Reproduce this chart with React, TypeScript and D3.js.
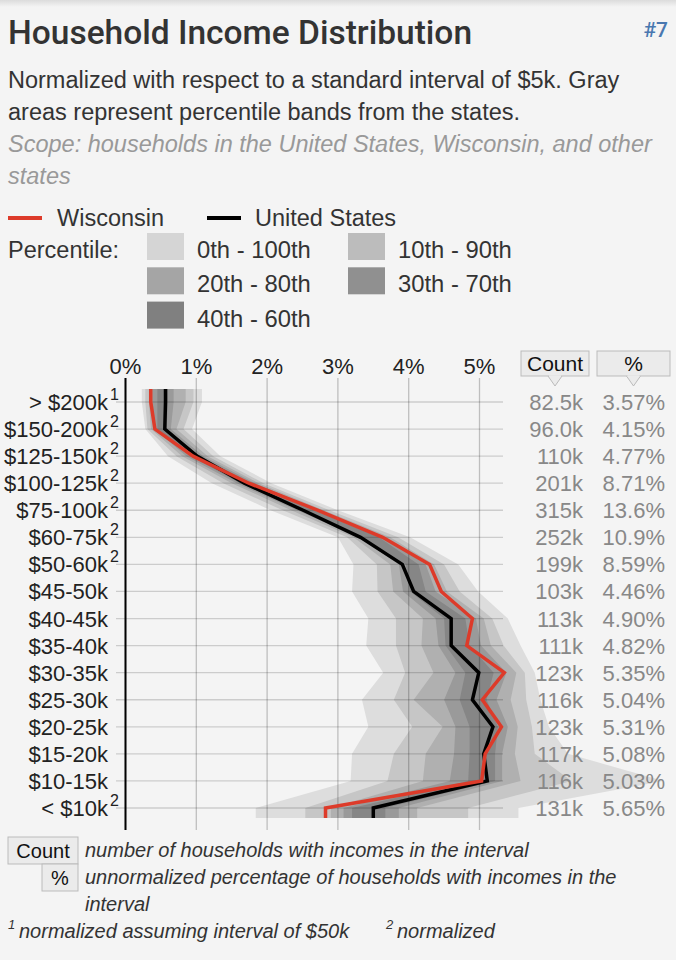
import React from 'react';
import * as d3 from 'd3';

// income brackets, top to bottom
const incomeLabels = ['> $200k', '$150-200k', '$125-150k', '$100-125k', '$75-100k', '$60-75k', '$50-60k', '$45-50k', '$40-45k', '$35-40k', '$30-35k', '$25-30k', '$20-25k', '$15-20k', '$10-15k', '< $10k'];
const footnoteMarks = ['1', '2', '2', '2', '2', '2', '2', '', '', '', '', '', '', '', '', '2'];
const countLabels = ['82.5k', '96.0k', '110k', '201k', '315k', '252k', '199k', '103k', '113k', '111k', '123k', '116k', '123k', '117k', '116k', '131k'];
const pctLabels = ['3.57%', '4.15%', '4.77%', '8.71%', '13.6%', '10.9%', '8.59%', '4.46%', '4.90%', '4.82%', '5.35%', '5.04%', '5.31%', '5.08%', '5.03%', '5.65%'];

// normalized percentages (per $5k)
const wisconsin = [0.357, 0.415, 0.954, 1.742, 2.72, 3.633, 4.295, 4.46, 4.9, 4.82, 5.35, 5.04, 5.31, 5.08, 5.03, 2.825];
const unitedStates = [0.565, 0.555, 1.01, 1.68, 2.51, 3.32, 3.91, 4.07, 4.6, 4.6, 4.99, 4.9, 5.19, 5.06, 5.11, 3.5];

// state percentiles
const p0 = [0.23, 0.28, 0.6, 1.22, 2.05, 3.0, 3.22, 3.2, 3.43, 3.4, 3.64, 3.34, 3.43, 3.2, 3.18, 1.84];
const p10 = [0.28, 0.31, 0.72, 1.38, 2.22, 3.13, 3.55, 3.56, 3.82, 3.82, 3.95, 3.79, 4.05, 3.79, 3.7, 2.54];
const p20 = [0.33, 0.36, 0.8, 1.5, 2.34, 3.22, 3.74, 3.78, 4.2, 4.18, 4.35, 4.07, 4.48, 4.24, 4.2, 2.9];
const p30 = [0.38, 0.41, 0.86, 1.57, 2.42, 3.3, 3.86, 3.92, 4.38, 4.42, 4.66, 4.5, 4.66, 4.64, 4.58, 3.08];
const p40 = [0.45, 0.45, 0.92, 1.62, 2.48, 3.36, 3.96, 4.02, 4.5, 4.52, 4.8, 4.72, 4.86, 4.86, 4.84, 3.2];
const p60 = [0.6, 0.58, 1.05, 1.78, 2.66, 3.58, 4.14, 4.24, 4.8, 4.86, 5.2, 5.1, 5.26, 5.22, 5.22, 3.67];
const p70 = [0.68, 0.64, 1.1, 1.83, 2.72, 3.66, 4.24, 4.38, 4.95, 5.02, 5.38, 5.24, 5.4, 5.32, 5.32, 3.86];
const p80 = [0.85, 0.72, 1.16, 1.88, 2.8, 3.74, 4.36, 4.54, 5.06, 5.16, 5.52, 5.44, 5.54, 5.5, 5.58, 4.12];
const p90 = [0.96, 0.82, 1.24, 1.95, 2.88, 3.85, 4.5, 4.72, 5.18, 5.34, 5.64, 5.66, 5.74, 5.78, 6.3, 4.84];
const p100 = [1.08, 0.94, 1.34, 2.06, 3.0, 4.02, 4.7, 4.98, 5.4, 5.58, 5.78, 5.86, 5.98, 6.25, 7.6, 5.55];

const xTicks = [0, 1, 2, 3, 4, 5];
const bandLabels = ['0th - 100th', '10th - 90th', '20th - 80th', '30th - 70th', '40th - 60th'];

const FONT = '"Liberation Sans", Arial, sans-serif';
const bandColors = ['#dddddd', '#c6c6c6', '#b0b0b0', '#9a9a9a', '#868686'];
const legendColors = ['#d5d5d5', '#bcbcbc', '#a5a5a5', '#909090', '#808080'];
const RED = '#dd3b2a';

type Pt = { i: number; y: number };

export default function App() {
  const width = 676,
    height = 960;

  const x = d3.scaleLinear().domain([0, 5]).range([125.5, 479.5]);
  const y = d3.scalePoint<string>().domain(incomeLabels).range([402, 808]);
  const n = incomeLabels.length;

  // points for shapes: a short flat cap above first row and below last row
  const pts: Pt[] = [
    { i: 0, y: (y(incomeLabels[0]) as number) - 13 },
    ...incomeLabels.map((l, i) => ({ i, y: y(l) as number })),
    { i: n - 1, y: (y(incomeLabels[n - 1]) as number) + 10 },
  ];

  const bands = [
    [p0, p100],
    [p10, p90],
    [p20, p80],
    [p30, p70],
    [p40, p60],
  ];

  const area = (lo: number[], hi: number[]) =>
    d3
      .area<Pt>()
      .y((d) => d.y)
      .x0((d) => x(lo[d.i]))
      .x1((d) => x(hi[d.i]))(pts) as string;

  const line = (vals: number[]) =>
    d3
      .line<Pt>()
      .x((d) => x(vals[d.i]))
      .y((d) => d.y)(pts) as string;

  const gridTop = 378,
    gridBottom = 830,
    gridLeft = 116,
    gridRight = 503;

  return (
    <svg width={width} height={height} style={{ position: 'absolute', left: 0, top: 0, fontFamily: FONT }}>
      <defs>
        <linearGradient id="topShade" x1="0" y1="0" x2="0" y2="1">
          <stop offset="0" stopColor="#dcdcdc" />
          <stop offset="1" stopColor="#f4f4f4" />
        </linearGradient>
      </defs>
      <rect width={width} height={height} fill="#f4f4f4" />
      <rect width={width} height={7} fill="url(#topShade)" />

      {/* header */}
      <text x={8} y={44} fontSize={33.5} fill="#333" fontFamily='Roboto, "Liberation Sans", sans-serif' fontWeight={500}>
        Household Income Distribution
      </text>
      <text x={668} y={37} fontSize={21} fill="#4a78b0" textAnchor="end" fontWeight={500} fontFamily='Roboto, "Liberation Sans", sans-serif'>
        #7
      </text>
      <g fontSize={23.5}>
        <text x={8} y={88} fill="#333">
          Normalized with respect to a standard interval of $5k. Gray
        </text>
        <text x={8} y={120} fill="#333">
          areas represent percentile bands from the states.
        </text>
        <text x={8} y={152} fill="#999" fontStyle="italic">
          Scope: households in the United States, Wisconsin, and other
        </text>
        <text x={8} y={184} fill="#999" fontStyle="italic">
          states
        </text>
      </g>

      {/* legend */}
      <line x1={8} x2={42} y1={218} y2={218} stroke={RED} strokeWidth={4} />
      <text x={57} y={226} fontSize={23.5} fill="#333">
        Wisconsin
      </text>
      <line x1={207} x2={241} y1={218} y2={218} stroke="#000" strokeWidth={4} />
      <text x={255} y={226} fontSize={23.5} fill="#333">
        United States
      </text>
      <text x={8} y={258} fontSize={23.5} fill="#333">
        Percentile:
      </text>
      {bandLabels.map((lab, k) => {
        const col = k % 2,
          row = Math.floor(k / 2);
        const sx = col === 0 ? 147 : 348;
        const sy = 233 + row * 34.3;
        return (
          <g key={lab}>
            <rect x={sx} y={sy} width={37} height={27} fill={legendColors[k]} />
            <text x={sx + 50} y={sy + 25} fontSize={23.8} fill="#333">
              {lab}
            </text>
          </g>
        );
      })}

      {/* percentile bands */}
      {bands.map(([lo, hi], k) => (
        <path key={k} d={area(lo, hi)} fill={bandColors[k]} />
      ))}

      {/* grid */}
      {xTicks.map((t) => (
        <line key={t} x1={x(t)} x2={x(t)} y1={gridTop} y2={gridBottom} stroke="#000" strokeOpacity={0.22} strokeWidth={1.3} />
      ))}
      {incomeLabels.map((l) => (
        <line key={l} x1={gridLeft} x2={gridRight} y1={y(l)} y2={y(l)} stroke="#000" strokeOpacity={0.16} strokeWidth={1.3} />
      ))}
      <line x1={x(0)} x2={x(0)} y1={gridTop} y2={gridBottom} stroke="#000" strokeWidth={2} />

      {/* series */}
      <path d={line(unitedStates)} fill="none" stroke="#000" strokeWidth={3.5} strokeLinejoin="miter" />
      <path d={line(wisconsin)} fill="none" stroke={RED} strokeWidth={3.5} strokeLinejoin="miter" />

      {/* x tick labels */}
      {xTicks.map((t) => (
        <text key={t} x={x(t)} y={374} fontSize={22} fill="#222" textAnchor="middle">
          {d3.format('.0%')(t / 100)}
        </text>
      ))}

      {/* row labels */}
      {incomeLabels.map((l, i) => (
        <g key={l}>
          <text x={108} y={(y(l) as number) + 8} fontSize={22} fill="#222" textAnchor="end">
            {l}
          </text>
          {footnoteMarks[i] && (
            <text x={110} y={(y(l) as number) - 2} fontSize={16} fill="#222">
              {footnoteMarks[i]}
            </text>
          )}
          <text x={583} y={(y(l) as number) + 8} fontSize={22} fill="#888" textAnchor="end">
            {countLabels[i]}
          </text>
          <text x={665} y={(y(l) as number) + 8} fontSize={22} fill="#888" textAnchor="end">
            {pctLabels[i]}
          </text>
        </g>
      ))}

      {/* column headers */}
      {[
        { label: 'Count', x0: 521, w: 68 },
        { label: '%', x0: 597, w: 73 },
      ].map((h) => {
        const cx = h.x0 + h.w / 2;
        return (
          <g key={h.label}>
            <rect x={h.x0} y={351} width={h.w} height={25} fill="#ebebeb" stroke="#bbb" />
            <path d={`M${cx - 7},376 L${cx},386 L${cx + 7},376`} fill="#ebebeb" stroke="#bbb" />
            <line x1={cx - 6} x2={cx + 6} y1={376} y2={376} stroke="#ebebeb" strokeWidth={1.5} />
            <text x={cx} y={371} fontSize={21} fill="#111" textAnchor="middle">
              {h.label}
            </text>
          </g>
        );
      })}

      {/* footer */}
      <rect x={8} y={837} width={70} height={27} fill="#ebebeb" stroke="#bbb" />
      <text x={43} y={858} fontSize={20} fill="#111" textAnchor="middle">
        Count
      </text>
      <rect x={42} y={864} width={36} height={27} fill="#ebebeb" stroke="#bbb" />
      <text x={60} y={885} fontSize={20} fill="#111" textAnchor="middle">
        %
      </text>
      <g fontSize={20} fill="#333" fontStyle="italic">
        <text x={85} y={857}>number of households with incomes in the interval</text>
        <text x={85} y={884}>unnormalized percentage of households with incomes in the</text>
        <text x={85} y={911}>interval</text>
        <text x={8} y={929} fontSize={13}>1</text>
        <text x={19} y={938}>normalized assuming interval of $50k</text>
        <text x={386} y={929} fontSize={13}>2</text>
        <text x={397} y={938}>normalized</text>
      </g>
    </svg>
  );
}
